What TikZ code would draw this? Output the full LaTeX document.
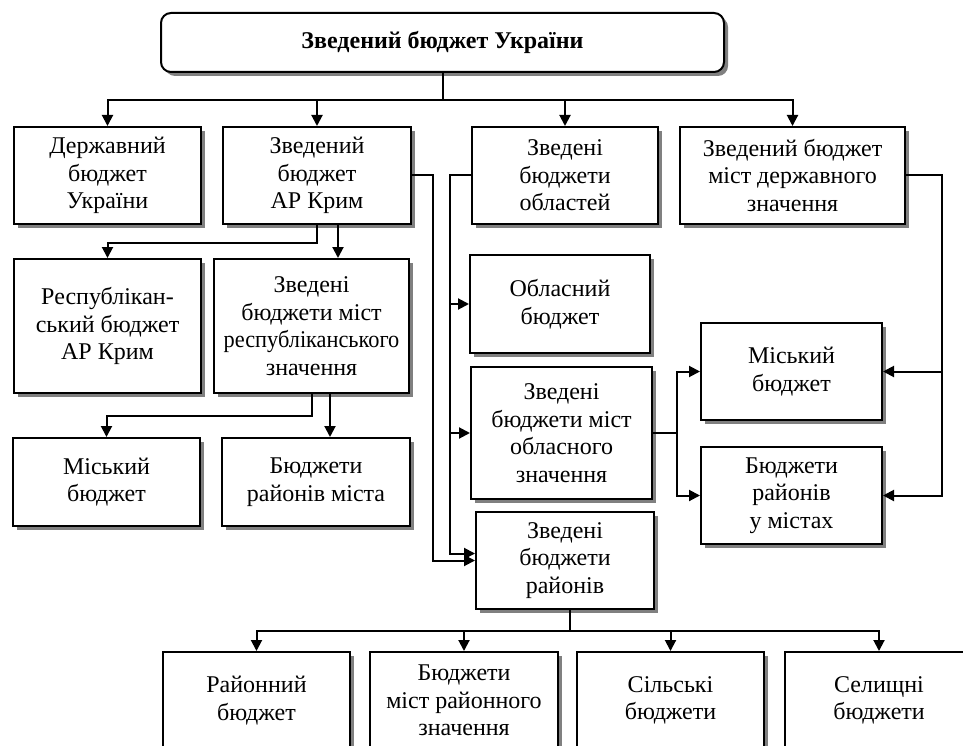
\documentclass[tikz,border=0pt]{standalone}
\usepackage{fontspec}
\setmainfont{Liberation Serif}
\usetikzlibrary{arrows.meta,shadows}
\begin{document}
\begin{tikzpicture}[x=1pt,y=-1pt,
 box/.style={draw,line width=2pt,fill=white,align=center,anchor=north west,
   font=\fontsize{24}{27.5}\selectfont,inner sep=0pt,
   drop shadow={shadow xshift=4pt,shadow yshift=-4pt,fill=black!50,opacity=1}},
 arr/.style={line width=2pt,-{Triangle[length=11pt,width=11pt]}},
 ln/.style={line width=2pt}]
\useasboundingbox (0,0) rectangle (963,746);
\clip (0,0) rectangle (963,746);
\fill[white] (0,0) rectangle (963,746);
% nodes
\node[box,rounded corners=10pt,minimum width=563pt,minimum height=59pt,font=\fontsize{24}{27}\selectfont\bfseries] (top) at (160,12) {Зведений бюджет України};
\node[box,minimum width=187pt,minimum height=97pt] (derzh) at (13,126) {Державний\\бюджет\\України};
\node[box,minimum width=188pt,minimum height=97pt] (krym) at (222,126) {Зведений\\бюджет\\АР Крим};
\node[box,minimum width=186pt,minimum height=97pt] (oblt) at (471,126) {Зведені\\бюджети\\областей};
\node[box,minimum width=225pt,minimum height=97pt] (mistd) at (679,126) {Зведений бюджет\\міст державного\\значення};
\node[box,minimum width=187pt,minimum height=134pt] (respub) at (13,258) {Республікан-\\ський бюджет\\АР Крим};
\node[box,minimum width=195pt,minimum height=134pt] (resp2) at (213,258) {Зведені\\бюджети міст\\\scalebox{0.93}[1]{республіканського}\\значення};
\node[box,minimum width=187pt,minimum height=88pt] (misk1) at (12,437) {Міський\\бюджет};
\node[box,minimum width=188pt,minimum height=88pt] (raimista) at (221,437) {Бюджети\\районів міста};
\node[box,minimum width=180pt,minimum height=98pt] (oblasny) at (469,254) {Обласний\\бюджет};
\node[box,minimum width=181pt,minimum height=132pt] (mistobl) at (470,366) {Зведені\\бюджети міст\\обласного\\значення};
\node[box,minimum width=178pt,minimum height=97pt] (raiony) at (475,511) {Зведені\\бюджети\\районів};
\node[box,minimum width=181pt,minimum height=97pt] (misk2) at (700,322) {Міський\\бюджет};
\node[box,minimum width=181pt,minimum height=97pt] (raiumist) at (700,446) {Бюджети\\районів\\у містах};
\node[box,minimum width=187pt,minimum height=97pt] (rb) at (162,651) {Районний\\бюджет};
\node[box,minimum width=188pt,minimum height=97pt] (bmr) at (369,651) {Бюджети\\міст районного\\значення};
\node[box,minimum width=187pt,minimum height=97pt] (silski) at (576,651) {Сільські\\бюджети};
\node[box,minimum width=188pt,minimum height=97pt] (selyshchni) at (784,651) {Селищні\\бюджети};
% top connectors
\draw[ln] (top.south) -- ++(0,27) coordinate (h1);
\draw[arr] (h1) -| (derzh.north);
\draw[arr] (h1) -| (krym.north);
\draw[arr] (h1) -| (oblt.north);
\draw[arr] (h1) -| (mistd.north);
% Krym branch
\draw[arr] (krym.south) -- ++(0,18) -| (respub.north);
\draw[arr] ([xshift=21pt]krym.south) -- ([xshift=21pt]krym.south |- resp2.north);
\draw[arr] (resp2.south) -- ++(0,22) -| (misk1.north);
\draw[arr] ([xshift=18.5pt]resp2.south) -- ([xshift=18.5pt]resp2.south |- raimista.north);
\draw[arr] (krym.east) -- ++(21,0) |- (raiony.west);
% oblasti branch
\draw[arr] (oblt.west) -- ++(-21,0) |- ([yshift=7pt]raiony.west);
\draw[arr] (oblt.west) ++(-21,0) |- (oblasny.west);
\draw[arr] (oblt.west) ++(-21,0) |- (mistobl.west);
% mista derzh branch
\draw[arr] (mistd.east) -- ++(36,0) |- (raiumist.east);
\draw[arr] (mistd.east) ++(36,0) |- (misk2.east);
% mista oblasnoho branch
\draw[ln] (mistobl.east) -- ++(24,0) coordinate (h2);
\draw[arr] (h2) |- (misk2.west);
\draw[arr] (h2) |- (raiumist.west);
% raiony branch
\draw[ln] ([xshift=5pt]raiony.south) -- ++(0,21) coordinate (h3);
\draw[arr] (h3) -| (rb.north);
\draw[arr] (h3) -| (bmr.north);
\draw[arr] (h3) -| (silski.north);
\draw[arr] (h3) -| (selyshchni.north);
\end{tikzpicture}
\end{document}
